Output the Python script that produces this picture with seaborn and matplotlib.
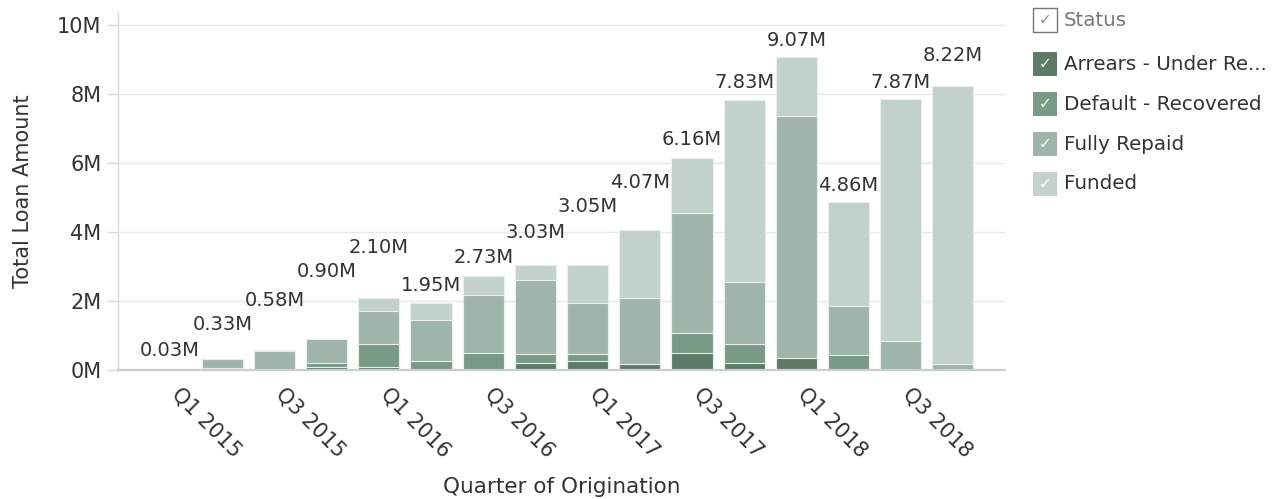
import matplotlib
matplotlib.use("Agg")
import matplotlib.pyplot as plt
import matplotlib.transforms as mtransforms
import seaborn as sns
import numpy as np
import pandas as pd
from matplotlib.patches import Rectangle

# ---------------- data (millions) ----------------
quarters = ["Q1 2015", "Q2 2015", "Q3 2015", "Q4 2015",
            "Q1 2016", "Q2 2016", "Q3 2016", "Q4 2016",
            "Q1 2017", "Q2 2017", "Q3 2017", "Q4 2017",
            "Q1 2018", "Q2 2018", "Q3 2018", "Q4 2018"]
arrears = [0.00, 0.00, 0.00, 0.08, 0.08, 0.00, 0.00, 0.21,
           0.27, 0.18, 0.48, 0.19, 0.34, 0.00, 0.00, 0.00]
default_recovered = [0.00, 0.07, 0.00, 0.12, 0.68, 0.27, 0.50, 0.24,
                     0.19, 0.00, 0.58, 0.55, 0.00, 0.43, 0.00, 0.00]
fully_repaid = [0.03, 0.26, 0.54, 0.70, 0.95, 1.19, 1.68, 2.17,
                1.47, 1.91, 3.49, 1.80, 7.02, 1.42, 0.84, 0.17]
funded = [0.00, 0.00, 0.04, 0.00, 0.39, 0.49, 0.55, 0.41,
          1.12, 1.98, 1.61, 5.29, 1.71, 3.01, 7.03, 8.05]
totals = [0.03, 0.33, 0.58, 0.90, 2.10, 1.95, 2.73, 3.03,
          3.05, 4.07, 6.16, 7.83, 9.07, 4.86, 7.87, 8.22]
series_names = ["Arrears - Under Re...", "Default - Recovered", "Fully Repaid", "Funded"]

# layout: vertical offset of each total label above its bar (pixels)
label_offsets = [18, 34, 49, 67, 50, 17, 18, 33, 58, 47, 18, 17, 17, 17, 16, 31]

colors = ["#5e7b69", "#7a9a88", "#9fb5aa", "#c2d1c9"]

sns.set_theme(style="white")
plt.rcParams["font.family"] = ["DejaVu Sans"]
text_color = "#333333"

fig = plt.figure(figsize=(12.72, 4.99), dpi=100)
fig.patch.set_facecolor("white")
ax = fig.add_axes([118 / 1272, 1 - 370 / 499, (1005 - 118) / 1272, (370 - 12) / 499])

layers = [arrears, default_recovered, fully_repaid, funded]
cum = np.cumsum(np.array(layers), axis=0)
df = pd.DataFrame({"quarter": quarters})
# draw from the top layer down so lower layers overlay
for i in range(3, -1, -1):
    df["val"] = cum[i]
    sns.barplot(data=df, x="quarter", y="val", order=quarters, color=colors[i],
                saturation=1, width=0.79, edgecolor="#e9efeb", linewidth=0.8,
                ax=ax, zorder=2)

ax.set_xlim(-1.0, 16.0)
ax.set_ylim(0, 10.38)
ax.set_yticks([0, 2, 4, 6, 8, 10])
ax.set_yticklabels([f"{v}M" for v in [0, 2, 4, 6, 8, 10]], fontsize=15, color=text_color)
ax.yaxis.grid(True, color="#e8e8e8", linewidth=1, zorder=0)
ax.set_axisbelow(True)
ax.tick_params(axis="y", length=8, color="#d9d9d9", width=1, pad=4, left=True)
ax.tick_params(axis="x", length=0, pad=10)

tick_idx = list(range(0, 16, 2))
ax.set_xticks(tick_idx)
ax.set_xticklabels([quarters[i] for i in tick_idx], rotation=-45, ha="left", va="top",
                   rotation_mode="anchor", fontsize=15, color=text_color)
shift = mtransforms.ScaledTranslation(12 / 100, 0, fig.dpi_scale_trans)
for lbl in ax.get_xticklabels():
    lbl.set_transform(lbl.get_transform() + shift)

for s in ["top", "right"]:
    ax.spines[s].set_visible(False)
ax.spines["left"].set_color("#d9d9d9")
ax.spines["left"].set_linewidth(1)
ax.spines["bottom"].set_color("#cccccc")
ax.spines["bottom"].set_linewidth(1.6)

ax.set_xlabel("Quarter of Origination", fontsize=15.5, color=text_color)
ax.set_ylabel("Total Loan Amount", fontsize=15, color=text_color)
ax.xaxis.set_label_coords(0.5, (370 - 477) / 358)
ax.yaxis.set_label_coords((33 - 118) / 887, 0.5)

for i, (t, off) in enumerate(zip(totals, label_offsets)):
    ax.annotate(f"{t:.2f}M", xy=(i, cum[3][i]), xytext=(0, off), textcoords="offset pixels",
                ha="center", va="center", fontsize=14, color=text_color, zorder=5)

# ---------------- legend ----------------
W, H = 1272, 499
def fx(px):
    return px / W
def fy(py):
    return 1 - py / H

box = 24
rows_y = [20, 64, 104, 144, 184]
fig.add_artist(Rectangle((fx(1033), fy(rows_y[0] + box / 2)), box / W, box / H,
                         transform=fig.transFigure, facecolor="white",
                         edgecolor="#777777", linewidth=1))
fig.text(fx(1033 + box / 2), fy(rows_y[0]), "\u2713", ha="center", va="center",
         fontsize=11, color="#888888")
fig.text(fx(1064), fy(rows_y[0]), "Status", ha="left", va="center",
         fontsize=14.3, color="#777777")
for name, col, yy in zip(series_names, colors, rows_y[1:]):
    fig.add_artist(Rectangle((fx(1033), fy(yy + box / 2)), box / W, box / H,
                             transform=fig.transFigure, facecolor=col,
                             edgecolor=col, linewidth=0))
    fig.text(fx(1033 + box / 2), fy(yy), "\u2713", ha="center", va="center",
             fontsize=11, color="white")
    fig.text(fx(1064), fy(yy), name, ha="left", va="center",
             fontsize=14.3, color=text_color)

fig.savefig("out.png", dpi=100, facecolor="white")
